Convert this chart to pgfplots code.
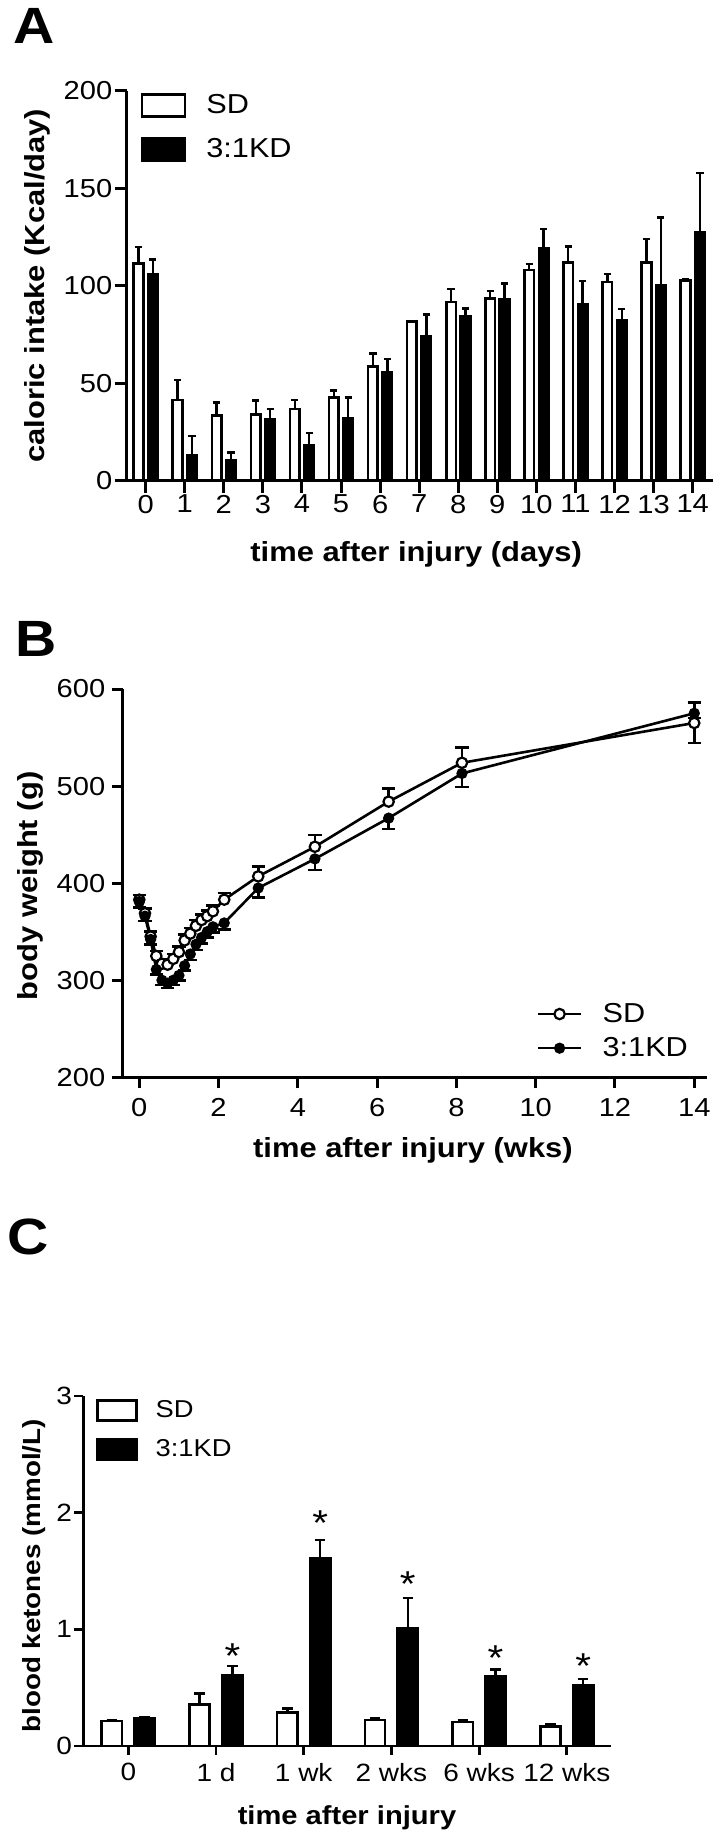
\documentclass[border=0pt]{standalone}
\usepackage{fontspec}
\setmainfont{Liberation Sans}[FakeStretch=1.12]
\usepackage{pgfplots}
\usepackage{pgfplotstable}
\pgfplotsset{compat=1.18}
\newcommand{\fs}[1]{\fontsize{#1}{#1}\selectfont}
\pgfplotsset{
  prism/.style={
    scale only axis,
    axis x line=bottom, axis y line=left,
    axis line style={-, line width=1.5pt},
    tick align=outside,
    major tick length=6pt,
    tick style={line width=1.5pt, black},
    enlargelimits=false,
    /pgf/number format/assume math mode=true,
    legend cell align=left,
  },
}
\pgfplotstableread{
x  sd     sde   kd     kde
0  111.5  8.2   106.0  7.5
1  41.4   10.1  12.8   10.1
2  33.3   6.9   10.6   3.9
3  33.8   7.4   31.6   5.3
4  36.8   4.6   18.1   6.5
5  42.7   3.6   32.0   10.6
6  58.5   6.8   55.7   6.7
7  81.5   0.5   73.8   11.5
8  91.6   6.7   84.1   4.3
9  93.5   3.9   93.0   8.2
10 108.0  3.1   119.3  9.8
11 111.8  8.2   90.4   12.0
12 101.9  4.1   82.4   5.5
13 111.8  12.1  100.0  35.0
14 102.6  0.6   127.2  30.7
}\intake
\pgfplotstableread{
x      sd     sde   kd    kde
0      383    5     381   6
0.143  369    5     366   5
0.286  345    5     342   5
0.429  325    5     311   5
0.571  317    5     300   5
0.714  316    5     297   5
0.857  322    5     300   5
1.0    329    6     305   5
1.143  341    6     315   5
1.286  348    6     327   6
1.429  356    6     337   6
1.571  362    6     344   6
1.714  366    6     350   6
1.857  371    6     355   6
2.143  383    7     359   7
3.0    407    10    395   10
4.43   437.5  12    425   11.5
6.29   484    13.7  467   11.3
8.14   524    16    513   13.8
14     565    20.6  575   5
}\weight
\pgfplotstableread{
x  sd     sde    kd     kde    star
0  0.214  0.009  0.240  0.011  nan
1  0.357  0.094  0.609  0.077  0.837
2  0.289  0.034  1.609  0.157  1.980
3  0.223  0.014  1.009  0.262  1.451
4  0.206  0.017  0.600  0.057  0.823
5  0.166  0.020  0.523  0.054  0.751
}\ketones
\begin{document}
\begin{tikzpicture}
\useasboundingbox (0pt,0pt) rectangle (361pt,-919.5pt);
\node[anchor=base west, inner sep=0pt, font=\fs{25.5}\bfseries] at (6.4pt,-22pt) {A};
\node[anchor=base west, inner sep=0pt, font=\fs{25.5}\bfseries] at (7.5pt,-328pt) {B};
\node[anchor=base west, inner sep=0pt, font=\fs{25.5}\bfseries] at (3.3pt,-627.3pt) {C};

% ---------------- Panel A ----------------
\begin{axis}[prism,
  at={(63.35pt,-240.35pt)}, anchor=south west,
  width=293pt, height=195pt,
  xmin=-0.486, xmax=14.512, ymin=0, ymax=200,
  xtick={0,1,...,14}, ytick={0,50,100,150,200},
  xticklabel style={font=\fs{13}, inner sep=1pt},
  yticklabel style={font=\fs{13}, inner sep=1pt},
  xlabel={time after injury (days)},
  ylabel={caloric intake (Kcal/day)},
  every axis x label/.style={at={(axis description cs:0.494,-0.19)}, anchor=center, font=\fs{13.8}\bfseries},
  every axis y label/.style={at={(axis description cs:-0.152,0.5)}, anchor=center, rotate=90, font=\fs{13.8}\bfseries},
  legend style={at={(axis description cs:0.024,1.0)}, anchor=north west, draw=none, fill=none,
    inner sep=0pt, outer sep=0pt, row sep=6.75pt, column sep=8pt, font=\fs{13.7}},
  legend image code/.code={\draw[#1] (0pt,-5.5pt) rectangle (21.5pt,5.5pt);},
  error bars/y dir=plus, error bars/y explicit,
  error bars/error bar style={line width=1.2pt, black},
  error bars/error mark options={rotate=90, mark size=1.8pt, line width=1.2pt, black},
]
\addplot[ybar, bar width=4.8pt, bar shift=0pt, draw=black, fill=white, line width=1.3pt]
  table[x expr=\thisrow{x}-0.1843, y=sd, y error=sde] {\intake};
\addplot[ybar, bar width=4.8pt, bar shift=0pt, draw=black, fill=black, line width=1.3pt]
  table[x expr=\thisrow{x}+0.1843, y=kd, y error=kde] {\intake};
\legend{SD,3:1KD}
\end{axis}

% ---------------- Panel B ----------------
\begin{axis}[prism,
  at={(61.35pt,-538.65pt)}, anchor=south west,
  width=292pt, height=194.15pt,
  xmin=-0.419, xmax=14.314, ymin=200, ymax=600,
  xtick={0,2,...,14}, ytick={200,300,...,600},
  major tick length=5.5pt,
  xticklabel style={font=\fs{13}, inner sep=5pt},
  yticklabel style={font=\fs{13}, inner sep=3pt},
  xlabel={time after injury (wks)},
  ylabel={body weight (g)},
  every axis x label/.style={at={(axis description cs:0.497,-0.189)}, anchor=center, font=\fs{13.8}\bfseries},
  every axis y label/.style={at={(axis description cs:-0.158,0.493)}, anchor=center, rotate=90, font=\fs{13.8}\bfseries},
  legend style={at={(axis description cs:0.7089,0.2017)}, anchor=north west, draw=none, fill=none,
    inner sep=0pt, outer sep=0pt, row sep=2pt, column sep=8pt, font=\fs{13.7}},
  legend image code/.code={\path[draw=none, fill=none] (0pt,-5.5pt) rectangle (21.65pt,5.5pt);
    \draw[mark repeat=2, mark phase=2, #1] plot coordinates {(0pt,0pt) (10.8pt,0pt) (21.65pt,0pt)};},
  error bars/y explicit,
  error bars/error bar style={line width=1.3pt, black},
  error bars/error mark options={rotate=90, mark size=3.3pt, line width=1.3pt, black},
]
\addplot[black, line width=1.3pt, mark=*, mark size=2.6pt, mark options={fill=white, line width=1.1pt},
  error bars/y dir=plus]
  table[x=x, y=sd, y error=sde] {\weight};
\addplot[black, line width=1.3pt, mark=*, mark size=2.3pt, mark options={fill=black, line width=1pt},
  error bars/y dir=minus]
  table[x=x, y=kd, y error=kde] {\weight};
\addplot[forget plot, draw=none, mark=none, error bars/y dir=minus]
  coordinates {(14,565) +- (0,20.6)};
\addplot[forget plot, draw=none, mark=none, error bars/y dir=plus]
  coordinates {(14,575) +- (0,11.3)};
\legend{SD,3:1KD}
\end{axis}

% ---------------- Panel C ----------------
\begin{axis}[prism,
  at={(41.65pt,-873pt)}, anchor=south west,
  width=263.7pt, height=175pt,
  xmin=-0.513, xmax=5.5, ymin=0, ymax=3,
  xtick={0,1,...,5}, xticklabels={0,1 d,1 wk,2 wks,6 wks,12 wks},
  ytick={0,1,2,3},
  major tick length=4.5pt,
  axis line style={-, line width=1.4pt},
  tick style={line width=1.4pt, black},
  xticklabel style={font=\fs{12.5}, inner sep=4pt},
  yticklabel style={font=\fs{12.5}, inner sep=1pt},
  xlabel={time after injury},
  ylabel={blood ketones (mmol/L)},
  every axis x label/.style={at={(axis description cs:0.5,-0.205)}, anchor=center, font=\fs{13}\bfseries},
  every axis y label/.style={at={(axis description cs:-0.093,0.486)}, anchor=center, rotate=90, font=\fs{12.4}\bfseries},
  legend style={at={(axis description cs:0.024,0.998)}, anchor=north west, draw=none, fill=none,
    inner sep=0pt, outer sep=0pt, row sep=5.5pt, column sep=7pt, font=\fs{12.2}},
  legend image code/.code={\draw[#1] (0pt,-5pt) rectangle (19.5pt,5pt);},
  error bars/y dir=plus, error bars/y explicit,
  error bars/error bar style={line width=1.2pt, black},
  error bars/error mark options={rotate=90, mark size=2.6pt, line width=1.2pt, black},
]
\addplot[ybar, bar width=10.15pt, bar shift=0pt, draw=black, fill=white, line width=1.3pt]
  table[x expr=\thisrow{x}-0.187, y=sd, y error=sde] {\ketones};
\addplot[ybar, bar width=10.15pt, bar shift=0pt, draw=black, fill=black, line width=1.3pt]
  table[x expr=\thisrow{x}+0.187, y=kd, y error=kde] {\ketones};
\addplot[forget plot, draw=none, mark=none,
  nodes near coords={*},
  every node near coord/.style={anchor=center, inner sep=0pt, font=\fs{18}, yshift=-3.9pt}]
  table[x expr=\thisrow{x}+0.187, y=star] {\ketones};
\legend{SD,3:1KD}
\end{axis}
\end{tikzpicture}
\end{document}
